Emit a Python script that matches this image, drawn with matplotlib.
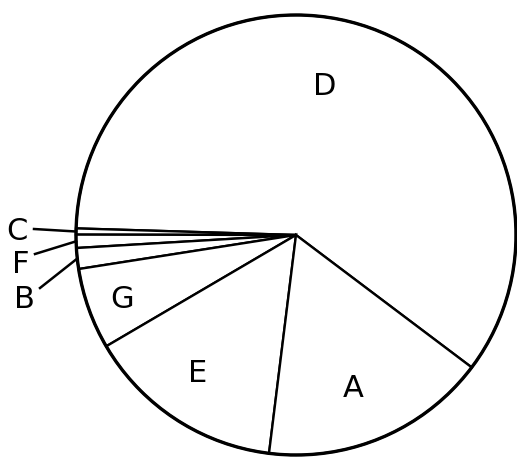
import numpy as np
import matplotlib.pyplot as plt

# slices in drawing order (counter-clockwise, starting at the D/A edge)
labels = ['D', 'C', 'F', 'B', 'G', 'E', 'A']
shares = [59.8, 0.45, 0.97, 1.53, 5.97, 14.6, 16.68]

W, H = 517, 457
# label baselines in pixels (x, y from top)
text_pos = {'D': (325, 95), 'G': (122, 308), 'E': (198, 382), 'A': (353, 397),
            'C': (17, 240), 'F': (21, 273), 'B': (24, 308)}
# start of the leader lines for the thin slices
leader_start = {'C': (34, 229), 'F': (35, 254), 'B': (40, 288)}

fig = plt.figure(figsize=(W / 100, H / 100), dpi=100)
ax = fig.add_axes([0, 0, 1, 1])

cx, cy, R = 296, H - 235, 220
wedges, _ = ax.pie(shares, startangle=-37, center=(cx, cy), radius=R,
                   colors=['white'] * len(shares),
                   wedgeprops=dict(edgecolor='black', linewidth=1.7))
ax.add_patch(plt.Circle((cx, cy), R, fill=False, lw=2.4, color='black'))

font = ['Liberation Sans Narrow', 'DejaVu Sans']
for w, lab in zip(wedges, labels):
    x, y = text_pos[lab]
    ax.text(x, H - y, lab, ha='center', va='baseline', fontsize=22, family=font)
    if lab in leader_start:
        mid = np.deg2rad((w.theta1 + w.theta2) / 2)
        sx, sy = leader_start[lab]
        ax.plot([sx, cx + R * np.cos(mid)], [H - sy, cy + R * np.sin(mid)],
                color='black', lw=1.8)

ax.set_xlim(0, W)
ax.set_ylim(0, H)
ax.set_aspect('equal')
ax.axis('off')
fig.savefig('out.png', dpi=100)
